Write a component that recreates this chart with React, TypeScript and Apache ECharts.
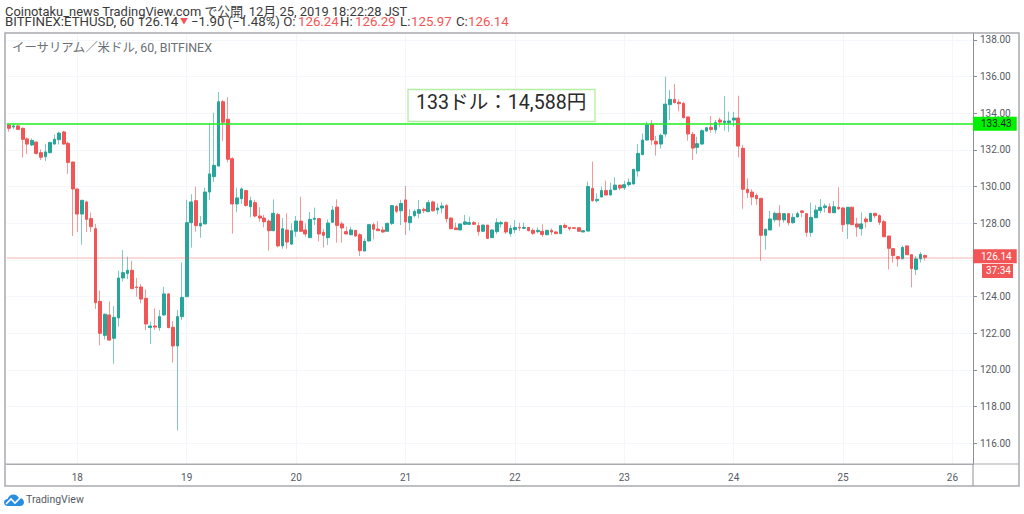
import React, { useEffect, useRef } from "react";
import * as echarts from "echarts";

// hour slots from Dec 17 09:00, one per hour
const highs = [133.45,133.45,133.36,133.23,132.69,132.63,132.45,132.03,132.32,132.43,132.85,133.0,133.05,132.45,131.36,129.87,129.27,129.21,128.58,127.96,124.32,123.08,123.73,123.48,125.41,126.54,126.17,125.94,125.01,124.68,124.39,122.63,123.35,123.26,124.52,124.17,122.66,123.26,125.87,129.27,129.58,129.99,128.39,129.94,133.45,134.03,135.16,134.73,134.87,131.6,129.94,129.96,129.81,129.45,
129.27,128.87,128.45,128.21,129.3,128.57,128.28,128.54,127.99,128.39,129.45,127.99,128.61,128.85,128.27,127.67,128.21,128.94,129.3,128.08,127.81,127.81,127.63,127.45,127.17,127.96,128.03,128.12,127.81,128.03,128.97,128.99,129.27,130.03,128.76,128.76,
129.27,128.85,129.27,129.23,129.08,129.14,129.05,128.32,128.03,127.96,128.45,128.36,128.12,128.05,127.9,127.9,127.67,128.27,128.14,128.08,127.9,128.17,128.03,128.03,127.77,127.72,127.77,127.94,127.63,127.72,127.57,127.9,127.99,127.77,127.77,127.77,127.63,
130.27,131.36,129.63,130.0,130.32,130.21,130.5,130.08,130.32,130.45,130.94,132.32,132.9,133.54,133.63,132.76,132.9,136.0,135.27,135.6,134.76,134.63,133.81,132.99,132.72,133.12,133.25,133.85,133.63,133.76,134.94,134.09,134.07,134.96,132.27,
130.45,129.85,129.63,129.36,127.7,128.68,128.63,128.99,128.54,128.54,128.54,128.63,128.72,128.52,129.12,128.99,129.32,129.08,129.08,129.21,129.96,128.87,128.87,128.9,128.3,128.59,128.36,128.54,128.54,128.48,128.18,127.3,126.63,126.21,126.77,126.76,126.3,126.21,126.43,126.29];

const bodyTops = [133.36,133.31,133.31,133.18,132.6,132.52,132.43,131.85,131.89,132.41,132.58,132.92,132.98,132.36,131.34,129.87,129.25,129.16,128.25,127.7,123.73,123.03,122.99,122.86,125.01,125.3,125.43,125.43,124.52,124.52,123.9,122.39,122.39,122.9,124.14,124.14,122.32,122.9,123.95,128.03,129.16,129.23,127.99,129.7,130.69,131.16,134.63,134.63,133.67,131.52,129.38,129.87,129.78,129.23,
129.12,128.39,128.28,128.12,128.54,128.47,127.7,127.63,127.59,128.12,128.12,127.63,128.21,128.27,128.25,127.5,128.01,128.72,128.88,127.96,127.54,127.63,127.61,127.37,127.01,127.92,127.92,127.68,127.63,127.99,128.96,128.92,129.08,129.27,128.36,128.65,
128.74,128.76,129.12,129.16,128.83,128.94,128.96,128.28,127.74,127.96,128.07,128.03,128.03,127.87,127.9,127.9,127.63,128.03,128.03,128.05,127.72,127.77,127.77,127.77,127.77,127.61,127.61,127.56,127.61,127.61,127.52,127.87,127.88,127.77,127.75,127.75,127.59,
130.0,129.9,129.3,129.78,129.78,129.81,130.08,130.08,130.1,130.23,130.94,131.81,132.54,133.36,133.4,132.47,132.8,134.5,134.76,134.76,134.6,134.54,133.8,132.85,132.34,133.05,133.21,133.23,133.49,133.63,133.58,133.58,133.74,133.74,132.09,
129.85,129.7,129.52,129.36,127.67,128.23,128.54,128.54,128.52,128.52,128.32,128.52,128.67,128.52,128.32,128.72,128.87,128.94,128.9,128.9,128.87,128.83,128.87,128.87,127.96,127.96,128.23,128.54,128.54,128.41,128.08,127.3,126.61,126.17,126.68,126.76,126.28,126.05,126.3,126.24];

const bodyBottoms = [133.18,133.25,133.12,132.58,132.32,132.27,131.81,131.6,131.63,131.85,132.32,132.56,132.32,131.32,129.87,128.5,128.5,128.21,127.81,123.66,121.99,121.88,121.62,121.72,122.83,125.01,125.26,124.43,124.48,123.86,122.5,122.3,122.33,122.3,122.99,122.3,121.3,121.3,122.9,123.99,128.03,127.87,127.85,127.96,129.7,130.54,131.12,133.51,131.49,129.05,129.05,129.34,128.97,128.9,
128.39,128.28,128.08,127.59,127.59,126.76,126.76,126.97,126.86,127.56,127.56,127.41,127.21,128.21,127.41,127.34,127.21,128.05,127.88,127.74,127.41,127.37,127.3,126.5,126.48,127.03,127.67,127.59,127.52,127.56,127.99,128.65,128.68,128.07,128.03,128.41,
128.54,128.68,128.63,128.68,128.72,128.83,128.25,127.7,127.65,127.63,127.94,127.94,127.94,127.54,127.56,127.17,127.21,127.54,127.96,127.52,127.43,127.65,127.74,127.72,127.59,127.45,127.54,127.39,127.37,127.52,127.43,127.43,127.77,127.7,127.72,127.56,127.52,
127.57,129.23,129.23,129.43,129.54,129.54,129.83,129.92,129.94,130.1,130.14,130.85,131.74,132.54,132.54,132.32,132.32,132.87,134.47,134.58,134.52,133.76,132.87,132.1,132.14,132.32,133.03,133.12,133.1,133.52,133.49,133.49,133.63,132.21,129.85,
129.67,129.43,129.34,127.34,127.34,127.63,128.19,128.18,128.18,128.03,128.03,128.34,128.59,127.5,127.5,128.3,128.7,128.85,128.57,128.57,128.79,127.92,127.96,127.92,127.79,127.7,128.08,128.1,128.41,128.05,127.26,126.63,126.23,126.06,126.06,126.28,125.52,125.48,126.05,126.14];

const lows = [133.0,133.14,133.09,131.58,131.78,132.21,131.74,131.45,131.4,131.81,132.29,132.3,132.29,130.69,127.3,127.52,126.83,127.52,127.52,123.32,121.33,121.66,121.59,120.33,122.35,124.81,124.94,124.39,123.99,123.63,122.17,121.41,122.17,122.13,122.94,122.26,120.39,116.68,122.72,123.99,126.67,127.54,127.21,127.96,129.27,130.25,131.12,132.49,131.32,127.43,128.59,129.05,128.9,128.32,
128.32,128.08,127.77,126.5,127.59,126.68,126.61,126.61,126.81,127.26,127.52,127.26,127.21,127.9,127.01,126.68,126.81,128.03,126.94,126.94,127.41,127.37,127.26,126.21,126.48,127.01,127.12,127.59,127.48,127.56,127.9,128.54,127.9,127.36,127.59,128.32,
128.27,128.54,128.63,128.63,128.48,128.54,128.03,127.68,127.63,127.63,127.9,127.94,127.9,127.32,127.54,127.16,127.19,127.41,127.77,127.41,127.26,127.45,127.57,127.67,127.56,127.36,127.45,127.26,127.36,127.36,127.41,127.41,127.72,127.59,127.7,127.54,127.52,
127.57,129.17,129.12,129.41,129.52,129.52,129.81,129.81,129.81,130.0,130.12,130.54,131.72,132.5,132.27,131.69,132.07,132.72,133.63,134.54,134.11,133.71,132.5,131.45,131.78,132.29,132.99,132.94,132.9,133.23,133.05,132.99,133.27,131.59,128.79,
129.36,128.99,129.01,125.95,126.55,127.63,128.05,127.81,128.03,127.87,127.97,128.32,128.32,127.26,127.26,128.3,128.54,128.59,128.57,128.57,128.72,127.52,127.14,127.9,127.26,127.32,127.76,128.08,128.27,127.9,127.26,125.48,125.85,125.63,126.04,126.28,124.5,125.17,125.85,125.97];

// slots whose price rose (green); all others fell (red)
const upIndexes = [1,5,8,9,10,11,16,21,23,24,25,26,31,33,34,37,38,39,40,42,43,44,45,46,50,51,53,58,60,62,63,66,67,70,71,75,78,79,83,84,86,88,89,90,92,94,95,99,100,101,104,106,107,108,110,111,113,116,118,121,126,127,129,130,132,133,135,136,137,138,139,140,143,144,145,151,152,153,155,157,158,159,166,167,168,170,172,173,176,177,178,179,181,184,187,189,196,199,200];

const dayTicks = ["18","19","20","21","22","23","24","25","26"];
const yTicks = [116,118,120,122,124,126,128,130,132,134,136,138];
const yLabels = [116,118,120,122,124,128,130,132,134,136,138];
const SLOT_COUNT = 212;
const FIRST_TICK_SLOT = 15;
const SLOTS_PER_DAY = 24;
const PRICE_LEVEL = 133.43;
const LAST_PRICE = 126.14;

const upSet = new Set(upIndexes);
const categories = Array.from({ length: SLOT_COUNT }, (_, i) => {
  const d = i - FIRST_TICK_SLOT;
  return d >= 0 && d % SLOTS_PER_DAY === 0 ? dayTicks[d / SLOTS_PER_DAY] : String(i);
});
const tickSlots = dayTicks.map((_, k) => FIRST_TICK_SLOT + k * SLOTS_PER_DAY);
const openClose = (i: number) =>
  upSet.has(i) ? [bodyBottoms[i], bodyTops[i]] : [bodyTops[i], bodyBottoms[i]];
const wickData = highs.map((h, i) => [...openClose(i), lows[i], h]);
const bodyData = highs.map((_, i) => [...openClose(i), bodyBottoms[i], bodyTops[i]]);

const RED = "#f25555";
const GREEN = "#26a69a";
const GRID = "#f3f6fa";
const FRAME = "#a9abb0";
const INK = "#3a3a3a";
const SANS = "Roboto, 'Noto Sans CJK JP', sans-serif";

echarts.graphic.registerShape(
  "tvLogo",
  echarts.graphic.extendPath(
    "M4 12 C1.5 12 0 10.4 0 8.4 C0 6.4 1.6 5 3.6 5 C4.4 2.2 6.6 0.4 9.4 0.4 C12 0.4 14 1.9 15 4.1 C18 3.9 20 6 20 8.3 C20 10.5 18.4 12 16 12 Z",
    {}
  ) as any
);

const legendPart = (text: string, x: number, fill: string, size = 13.25) => ({
  type: "text",
  x,
  y: 16,
  z: 5,
  silent: true,
  style: { text, font: `${size}px ${SANS}`, fill, lineHeight: 10 },
});

export default function App() {
  const ref = useRef<HTMLDivElement>(null);
  useEffect(() => {
    const chart = echarts.init(ref.current!, undefined, { renderer: "svg" });
    chart.setOption({
      animation: false,
      backgroundColor: "#ffffff",
      textStyle: { fontFamily: SANS },
      grid: { left: 6.7, top: 33, width: 966.3, height: 431 },
      xAxis: {
        type: "category",
        data: categories,
        boundaryGap: true,
        axisLine: { lineStyle: { color: FRAME, width: 1 } },
        axisTick: { customValues: tickSlots, alignWithLabel: true, length: 3, lineStyle: { color: "#888c94" } },
        axisLabel: { customValues: tickSlots, color: "#555a62", fontSize: 10, margin: 8, fontFamily: SANS },
        splitLine: { show: true, alignWithLabel: true, lineStyle: { color: GRID, width: 1 } },
      },
      yAxis: {
        type: "value",
        position: "right",
        min: 114.856,
        max: 138.382,
        scale: true,
        axisLine: { show: true, lineStyle: { color: "#8d9096", width: 1 } },
        axisTick: { show: true, customValues: yTicks, length: 4, lineStyle: { color: "#888c94" } },
        axisLabel: {
          customValues: yLabels,
          color: "#555a62",
          fontSize: 10,
          margin: 7,
          fontFamily: SANS,
          formatter: (v: number) => v.toFixed(2),
        },
        splitLine: { show: true, lineStyle: { color: GRID, width: 1 } },
      },
      series: [
        {
          type: "candlestick",
          name: "wick",
          data: wickData,
          barWidth: 1,
          clip: false,
          silent: true,
          itemStyle: {
            color: "rgba(38,166,154,0.6)",
            color0: "rgba(239,83,80,0.6)",
            borderColor: "rgba(38,166,154,0.6)",
            borderColor0: "rgba(239,83,80,0.6)",
            borderWidth: 1,
          },
          markLine: {
            silent: true,
            symbol: "none",
            animation: false,
            data: [
              {
                yAxis: LAST_PRICE,
                lineStyle: { color: "rgba(239,83,80,0.22)", type: "solid", width: 2 },
                label: {
                  show: true,
                  position: "end",
                  distance: 0,
                  formatter: () => LAST_PRICE.toFixed(2),
                  color: "#ffffff",
                  fontSize: 10,
                  fontFamily: SANS,
                  backgroundColor: RED,
                  padding: [2, 5, 2, 8],
                  align: "left",
                  offset: [0, -1],
                },
              },
              {
                yAxis: PRICE_LEVEL,
                lineStyle: { color: "#1fee1f", type: "solid", width: 1.5 },
                label: {
                  show: true,
                  position: "end",
                  distance: 0,
                  formatter: () => PRICE_LEVEL.toFixed(2),
                  color: "#1f2a1f",
                  fontSize: 10,
                  fontFamily: SANS,
                  backgroundColor: "#00f000",
                  padding: [2, 5, 2, 8],
                  align: "left",
                },
              },
            ],
          },
        },
        {
          type: "candlestick",
          name: "body",
          data: bodyData,
          barWidth: 3.2,
          silent: true,
          itemStyle: {
            color: GREEN,
            color0: RED,
            borderColor: GREEN,
            borderColor0: RED,
            borderWidth: 1,
          },
        },
      ],
      graphic: [
        { type: "rect", silent: true, z: 1, shape: { x: 5, y: 33, width: 1014, height: 453 }, style: { fill: "none", stroke: FRAME, lineWidth: 1.5 } },
        { type: "line", silent: true, z: 1, shape: { x1: 5, y1: 464, x2: 1019, y2: 464 }, style: { stroke: FRAME, lineWidth: 1 } },
        { type: "line", silent: true, z: 1, shape: { x1: 973, y1: 464, x2: 973, y2: 486 }, style: { stroke: "#8d9096", lineWidth: 1 } },
        {
          type: "text", x: 5, y: 6, z: 5, silent: true,
          style: { text: "Coinotaku_news TradingView.com で公開, 12月 25, 2019 18:22:28 JST", font: `12.9px ${SANS}`, fill: INK, lineHeight: 10 },
        },
        legendPart("BITFINEX:ETHUSD, 60 126.14", 5, INK),
        legendPart("▼", 180, RED, 8),
        legendPart("−1.90 (−1.48%) O:", 191, INK),
        legendPart("126.24", 298, RED),
        legendPart("H:", 340, INK),
        legendPart("126.29", 355, RED),
        legendPart("L:", 400, INK),
        legendPart("125.97", 411, RED),
        legendPart("C:", 456, INK),
        legendPart("126.14", 468, RED),
        {
          type: "text", x: 12, y: 41, z: 5, silent: true,
          style: { text: "イーサリアム／米ドル, 60, BITFINEX", font: `12.4px ${SANS}`, fill: "#6b6f76" },
        },
        { type: "rect", silent: true, z: 5, shape: { x: 408, y: 89.5, width: 187, height: 32 }, style: { fill: "#ffffff", stroke: "#b4f0a0", lineWidth: 1.3 } },
        {
          type: "text", x: 416, y: 93, z: 6, silent: true,
          style: { text: "133ドル：14,588円", font: `19.6px ${SANS}`, fill: "#2a2a2a" },
        },
        {
          type: "text", x: 982, y: 264, z: 8, silent: true,
          style: {
            text: "37:34", font: `10px ${SANS}`, fill: "#ffffff",
            backgroundColor: RED, padding: [2, 5, 2, 4], width: 22,
          },
        },
        { type: "tvLogo", x: 4, y: 494, scaleX: 1, scaleY: 1, z: 5, silent: true, style: { fill: "#2a8ee0" } },
        {
          type: "polyline", z: 6, silent: true,
          shape: { points: [[6, 504], [11, 499], [15, 503], [21, 497]] },
          style: { stroke: "#ffffff", lineWidth: 1.6, fill: "none" },
        },
        {
          type: "text", x: 26, y: 494, z: 5, silent: true,
          style: { text: "TradingView", font: `10.5px ${SANS}`, fill: "#555a62" },
        },
      ],
    });
    return () => chart.dispose();
  }, []);
  return (
    <div
      ref={ref}
      style={{ position: "fixed", left: 0, top: 0, width: 1024, height: 514, overflow: "hidden" }}
    />
  );
}
